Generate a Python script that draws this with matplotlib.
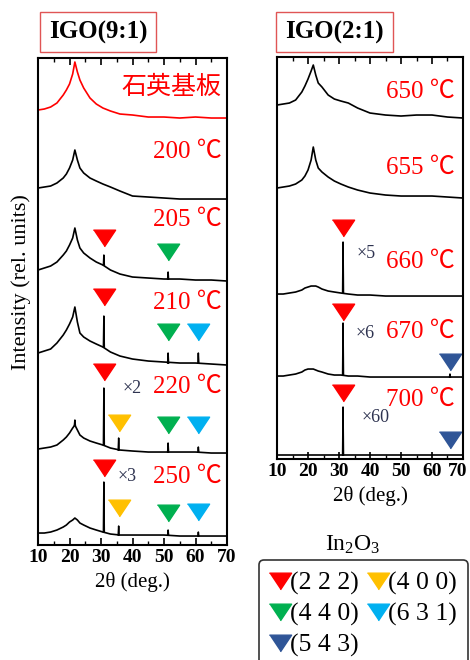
import numpy as np
import matplotlib
matplotlib.use('Agg')
import matplotlib.pyplot as plt
import matplotlib.transforms as transforms
from matplotlib.lines import Line2D
from matplotlib.ticker import MultipleLocator

plt.rcParams['font.family'] = ['Liberation Serif', 'Noto Sans CJK JP']
plt.rcParams['mathtext.fontset'] = 'custom'
plt.rcParams['mathtext.rm'] = 'Liberation Serif'
plt.rcParams['mathtext.it'] = 'Liberation Serif:italic'

# 2theta grid (deg.) used for the broad amorphous curves
two_theta = [10, 12, 14, 16, 18, 19, 20, 21, 21.7, 22.5, 23.3, 24.5, 26.5, 28.5,
             30.6, 33, 36, 40, 45, 50, 55, 60, 65, 70]
tick_pos = [10, 20, 30, 40, 50, 60, 70]

# ---- IGO(9:1) ----
left_labels = ['石英基板', '200 ℃', '205 ℃', '210 ℃', '220 ℃', '250 ℃']
left_offsets = [427, 346, 264, 180, 92, 9]
left_curves = [
    [8, 9, 11, 15, 23, 28, 34, 44, 56, 46, 38, 30, 20, 14, 10, 7, 4, 3, 1, 1, 0, 1, 0, 0],
    [11, 12, 13, 16, 21, 25, 31, 39, 49, 39, 31, 26, 21, 18, 15, 12, 8, 3, 2, 1, 0, 0, 0, 0],
    [11, 13, 15, 19, 26, 30, 36, 43, 53, 41, 33, 28, 23, 19, 16, 11, 7, 4, 3, 2, 2, 1, 1, 0],
    [12, 14, 16, 22, 30, 35, 41, 48, 58, 43, 32, 28, 24, 21, 18, 13, 9, 6, 4, 3, 2, 2, 1, 0],
    [4, 5, 6, 8, 13, 16, 20, 25, 28, 23, 18, 15, 12, 10, 8, 5, 3, 2, 1, 1, 1, 1, 0, 0],
    [3, 3, 4, 6, 9, 11, 14, 16, 18, 16, 13, 11, 8, 6, 4, 2, 1, 1, 1, 1, 0, 0, 0, 0],
]
# sharp reflections: (2theta, base, top)
left_spikes = [
    [],
    [],
    [(30.9, 16, 26), (51.3, 2, 9)],
    [(30.9, 18, 49), (51.3, 2, 12), (60.9, 2, 12)],
    [(21.7, 28, 33), (30.9, 8, 65), (35.6, 3, 15), (51.3, 1, 10), (60.9, 1, 6)],
    [(30.9, 4, 54), (35.6, 1, 10), (51.3, 1, 6), (60.9, 0, 4)],
]
# peak markers: (hkl, 2theta, height above baseline)
left_marks = [
    [],
    [],
    [('222', 30.9, 43), ('440', 51.3, 29)],
    [('222', 30.9, 68), ('440', 51.3, 33), ('631', 60.9, 33)],
    [('222', 30.9, 81), ('400', 35.6, 30), ('440', 51.3, 28), ('631', 60.9, 28)],
    [('222', 30.9, 68), ('400', 35.6, 28), ('440', 51.3, 23), ('631', 60.9, 24)],
]
left_label_y = [458, 393, 325, 242, 158, 68]
left_mult = [None, None, None, None, ('×2', 36.7, 157), ('×3', 35.1, 69)]

# ---- IGO(2:1) ----
right_labels = ['650 ℃', '655 ℃', '660 ℃', '670 ℃', '700 ℃']
right_offsets = [341, 261, 163, 82, 4]
right_curves = [
    [13, 14, 15, 18, 26, 32, 39, 47, 53, 43, 35, 31, 23, 19, 17, 15, 10, 5, 3, 2, 3, 3, 1, 0],
    [10, 11, 12, 14, 18, 22, 28, 38, 51, 38, 30, 26, 21, 17, 14, 11, 8, 5, 3, 2, 2, 2, 1, 0],
    [2, 2, 3, 4, 6, 8, 9, 10, 10, 10, 9, 7, 5, 4, 3, 2, 1, 1, 0, 0, 0, 0, 0, 0],
    [1, 1, 2, 3, 5, 7, 8, 8, 8, 7, 6, 5, 3, 2, 2, 1, 1, 0, 0, 0, 0, 0, 0, 0],
    [0, 0, 0, 0, 0, 0, 0, 0, 0, 0, 0, 0, 0, 0, 0, 0, 0, 0, 0, 0, 0, 0, 0, 0],
]
right_spikes = [
    [],
    [],
    [(31.3, 3, 54)],
    [(31.3, 2, 54), (65.8, 0, 3)],
    [(31.3, 0, 48)],
]
right_marks = [
    [],
    [],
    [('222', 31.3, 68)],
    [('222', 31.3, 65), ('543', 65.8, 15)],
    [('222', 31.3, 62), ('543', 65.8, 15)],
]
right_label_y = [367, 291, 197, 127, 59]
right_mult = [None, None, ('×5', 35.8, 206), ('×6', 35.5, 126), ('×60', 37.4, 42)]

hkl_colors = {'222': '#ff0000', '400': '#ffc000', '440': '#00b050',
              '631': '#00b0f0', '543': '#2f5597'}
hkl_names = {'222': '(2 2 2)', '400': '(4 0 0)', '440': '(4 4 0)',
             '631': '(6 3 1)', '543': '(5 4 3)'}

tri = [(-1, 0.75), (1, 0.75), (0, -0.75)]

fig = plt.figure(figsize=(4.7, 6.6), dpi=100)
ax_l = fig.add_axes([0.0809, 0.1742, 0.4021, 0.7379])
ax_r = fig.add_axes([0.5894, 0.3045, 0.3957, 0.6091])


def draw_panel(ax, labels, offsets, curves, spikes, marks, label_y, mults, label_x, ytop):
    for i, lab in enumerate(labels):
        y = np.array(curves[i]) + offsets[i]
        col = 'red' if lab == '石英基板' else 'black'
        ax.plot(two_theta, y, color=col, lw=1.2)
        for pos, b, t in spikes[i]:
            ax.plot([pos - 0.15, pos, pos + 0.15], [b + offsets[i], t + offsets[i], b + offsets[i]],
                    color='black', lw=1.1)
        for key, pos, h in marks[i]:
            ax.plot(pos, h + offsets[i], marker=tri, ms=16, color=hkl_colors[key], ls='none')
        ax.text(label_x, label_y[i], lab, color='red', fontsize=18, ha='right', va='center')
        if mults[i] is not None:
            txt, mx, my = mults[i]
            ax.text(mx, my, txt, color='#2e3350', fontsize=13, ha='left', va='center')
    ax.set_xlim(10, 70)
    ax.set_ylim(0, ytop)
    ax.set_yticks([])
    ax.set_xticks(tick_pos, [str(t) for t in tick_pos])
    ax.xaxis.set_minor_locator(MultipleLocator(5))
    ax.tick_params(axis='x', which='both', direction='in', top=True, labelsize=14, pad=3)
    ax.tick_params(axis='x', which='major', length=5, width=1.2)
    ax.tick_params(axis='x', which='minor', length=3, width=1.0)
    for lbl in ax.get_xticklabels():
        lbl.set_fontweight('bold')
    for sp in ax.spines.values():
        sp.set_linewidth(1.5)
    ax.set_xlabel('2θ (deg.)', fontsize=15, labelpad=4)


draw_panel(ax_l, left_labels, left_offsets, left_curves, left_spikes, left_marks,
           left_label_y, left_mult, 68.3, 487)
draw_panel(ax_r, right_labels, right_offsets, right_curves, right_spikes, right_marks,
           right_label_y, right_mult, 67.5, 402)

# "70" of the right panel sits a little inward, as in the original
shift = transforms.ScaledTranslation(-5 / 100, 0, fig.dpi_scale_trans)
for lbl in ax_r.get_xticklabels():
    if lbl.get_text() == '70':
        lbl.set_transform(lbl.get_transform() + shift)

fig.text(21 / 470, 1 - 282 / 660, 'Intensity (rel. units)', rotation=90, fontsize=16,
         ha='center', va='center')

box = dict(boxstyle='square,pad=0.35', facecolor='white', edgecolor='#e05555', lw=1.0)
fig.text(98 / 470, 1 - 32 / 660, 'IGO(9:1)', fontsize=18, fontweight='bold',
         ha='center', va='center', bbox=box)
fig.text(334.5 / 470, 1 - 32 / 660, 'IGO(2:1)', fontsize=18, fontweight='bold',
         ha='center', va='center', bbox=box)

fig.text(353 / 470, 1 - 545 / 660, 'In$_2$O$_3$', fontsize=17, ha='center', va='center')

order = ['222', '440', '543', '400', '631']
handles = [Line2D([], [], marker=tri, ms=16, color=hkl_colors[k], ls='none') for k in order]
leg = fig.legend(handles, [hkl_names[k] for k in order], loc='upper left',
                 bbox_to_anchor=(259 / 470, 1 - 560 / 660), ncol=2, fontsize=18.5,
                 frameon=True, fancybox=True, edgecolor='#333333', framealpha=1,
                 handlelength=0.7, handletextpad=0.05, columnspacing=0.4,
                 borderpad=0.45, labelspacing=0.3, borderaxespad=0)
leg.get_frame().set_linewidth(1.2)

fig.savefig('out.png', dpi=100)
